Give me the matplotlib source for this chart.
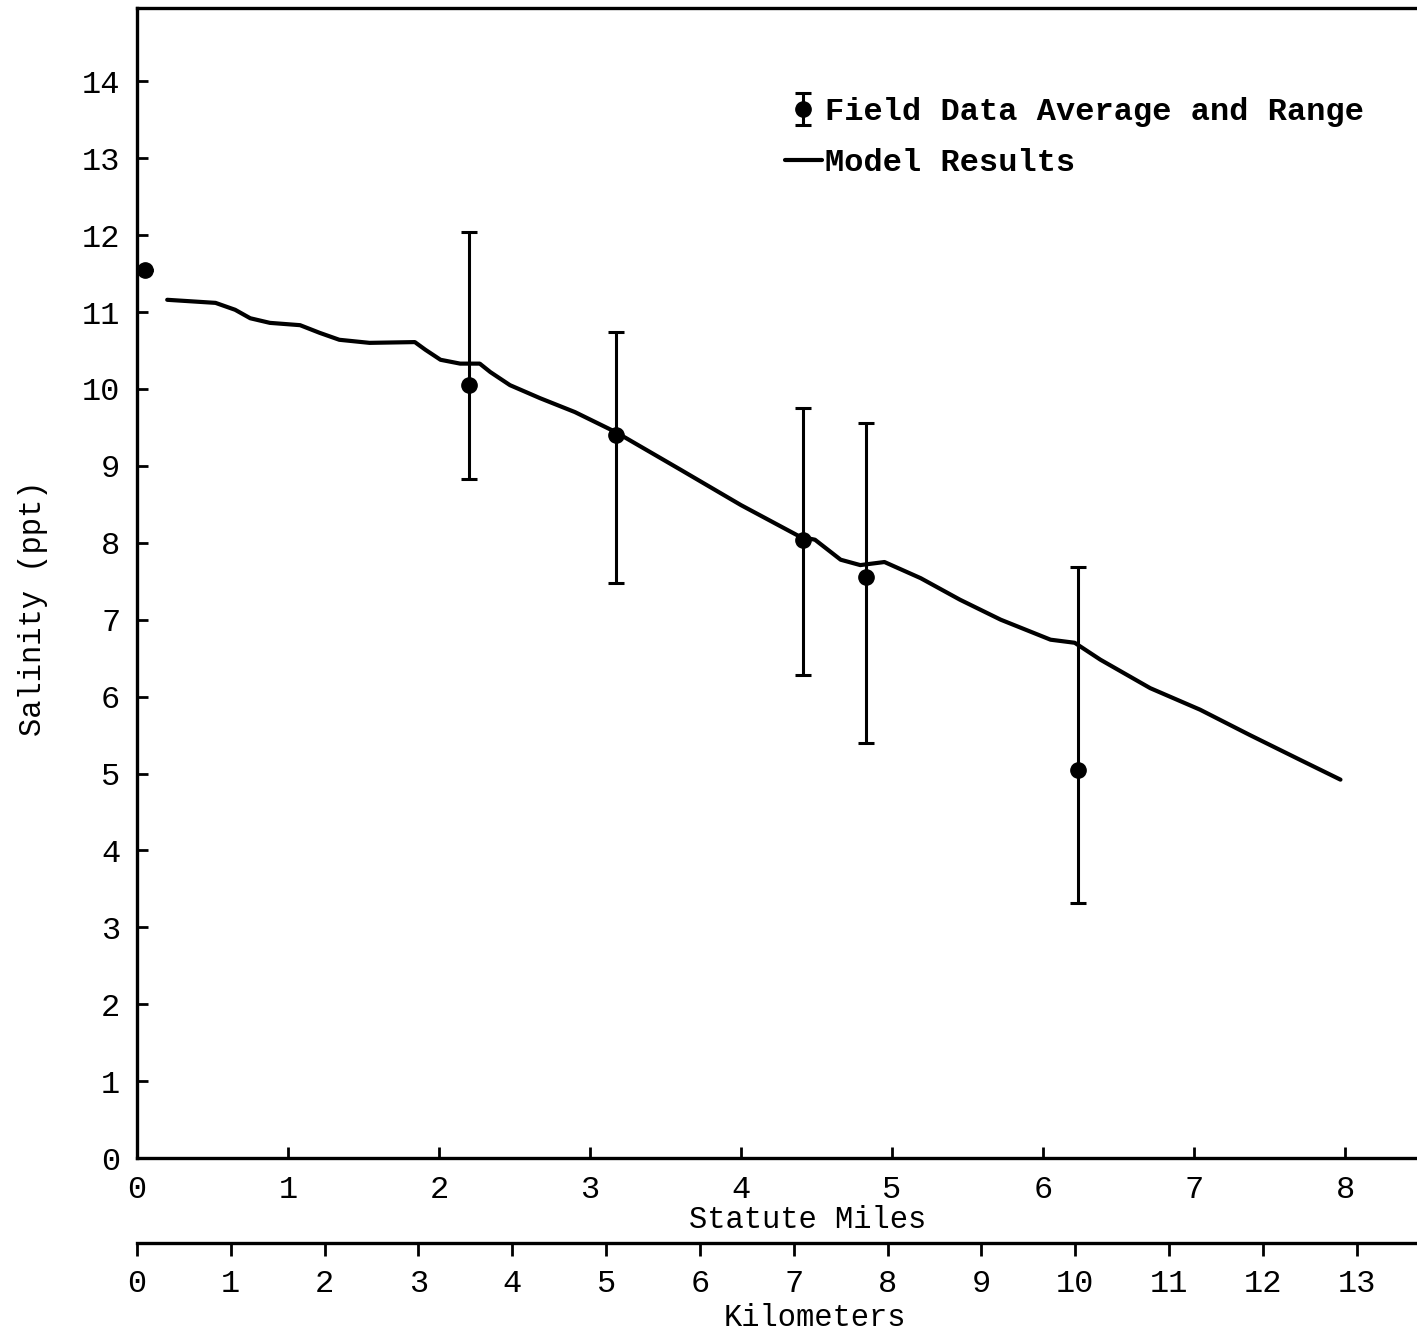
import numpy as np
import matplotlib
matplotlib.use("Agg")
import matplotlib.pyplot as plt

# field data (statute miles, salinity ppt): average with min/max range
field_miles = [0.05, 2.20, 3.17, 4.41, 4.83, 6.23]
field_avg = [11.55, 10.05, 9.40, 8.04, 7.56, 5.05]
field_min = [11.55, 8.83, 7.48, 6.28, 5.40, 3.32]
field_max = [11.55, 12.04, 10.74, 9.75, 9.56, 7.69]

# model results
model_miles = [0.20, 0.52, 0.65, 0.75, 0.88, 1.08, 1.21, 1.34, 1.54, 1.84,
               1.91, 2.01, 2.14, 2.27, 2.34, 2.47, 2.67, 2.90, 3.17, 3.60,
               4.00, 4.39, 4.49, 4.66, 4.79, 4.95, 5.19, 5.45, 5.72, 6.05,
               6.21, 6.38, 6.71, 7.04, 7.37, 7.70, 7.97]
model_sal = [11.16, 11.12, 11.03, 10.92, 10.86, 10.83, 10.73, 10.64, 10.60, 10.61,
             10.51, 10.38, 10.33, 10.33, 10.22, 10.05, 9.88, 9.70, 9.44, 8.95,
             8.49, 8.08, 8.04, 7.78, 7.71, 7.75, 7.54, 7.26, 7.00, 6.74,
             6.70, 6.48, 6.11, 5.83, 5.50, 5.18, 4.92]

mile_ticks = list(range(0, 9))
km_ticks = list(range(0, 14))
sal_ticks = list(range(0, 15))

MI_TO_KM = 1.609344
W, H = 1417, 1332
font = "Liberation Mono"

fig = plt.figure(figsize=(W / 100, H / 100), dpi=100)
ax = fig.add_axes([137 / W, 174 / H, 1280 / W, 1150 / H])

xmax = 1280 / 151.0
ax.set_xlim(0, xmax)
ax.set_ylim(0, 1150 / 76.9)

ax.plot(model_miles, model_sal, color="black", lw=3.0, solid_capstyle="round",
        solid_joinstyle="round", label="Model Results")

avg = np.array(field_avg)
yerr = [avg - np.array(field_min), np.array(field_max) - avg]
ax.errorbar(field_miles, field_avg, yerr=yerr, fmt="o", color="black",
            ms=11, elinewidth=2.2, capsize=5.5, capthick=2.2,
            label="Field Data Average and Range", clip_on=False, zorder=3)

for s in ["left", "bottom", "top"]:
    ax.spines[s].set_linewidth(2.4)
ax.spines["right"].set_visible(False)

ax.set_xticks(mile_ticks)
ax.set_yticks(sal_ticks)
ax.tick_params(axis="both", direction="in", length=8, width=2, labelsize=23)
ax.tick_params(axis="x", pad=12)
ax.tick_params(axis="y", pad=12)
for lab in ax.get_xticklabels() + ax.get_yticklabels():
    lab.set_fontfamily(font)

ax.set_xlabel("Statute Miles", fontsize=22, family=font)
ax.xaxis.set_label_coords(808 / W, (H - 1220) / H, transform=fig.transFigure)
ax.xaxis.label.set_va("center")
ax.set_ylabel("Salinity (ppt)", fontsize=22, family=font)
ax.yaxis.set_label_coords(33 / W, (H - 608) / H, transform=fig.transFigure)
ax.yaxis.label.set_va("center")

# kilometer scale below
kax = fig.add_axes([137 / W, (H - 1243) / H, 1280 / W, 0.0001])
kax.set_xlim(0, xmax * MI_TO_KM)
for s in ["left", "right", "top"]:
    kax.spines[s].set_visible(False)
kax.spines["bottom"].set_linewidth(2.4)
kax.set_yticks([])
kax.set_xticks(km_ticks)
kax.tick_params(axis="x", direction="out", length=9, width=2, labelsize=23, pad=10)
for lab in kax.get_xticklabels():
    lab.set_fontfamily(font)
kax.set_xlabel("Kilometers", fontsize=22, family=font)
kax.xaxis.set_label_coords(815 / W, (H - 1318) / H, transform=fig.transFigure)
kax.xaxis.label.set_va("center")
kax.patch.set_visible(False)

h, l = ax.get_legend_handles_labels()
leg = ax.legend(h[::-1], l[::-1], loc="upper left",
                bbox_to_anchor=(785 / W, (H - 97) / H), bbox_transform=fig.transFigure,
                frameon=False, borderpad=0, borderaxespad=0,
                handlelength=1.15, handletextpad=0.1, labelspacing=0.65,
                prop={"family": font, "size": 23, "weight": "bold"})

fig.savefig("out.png", dpi=100)
